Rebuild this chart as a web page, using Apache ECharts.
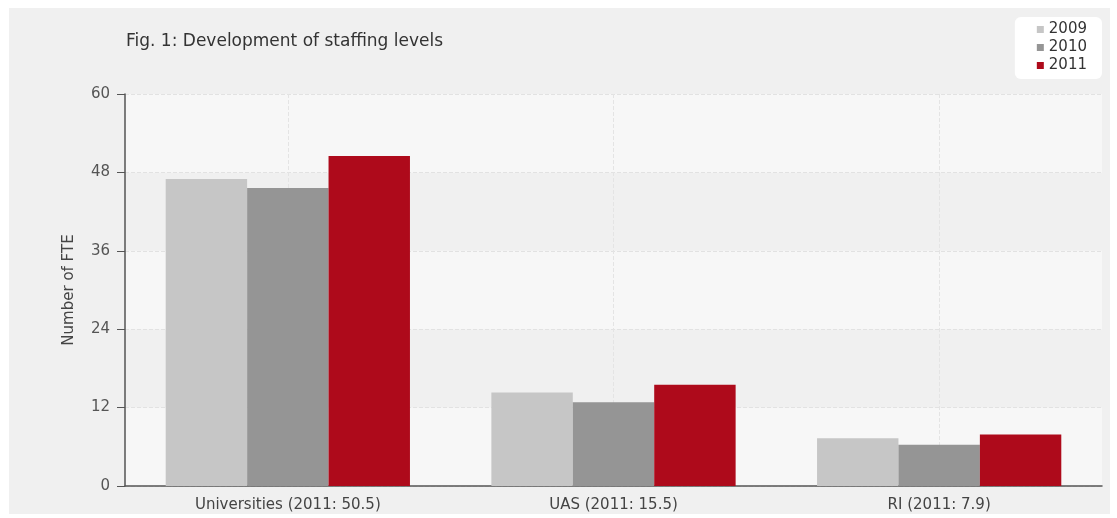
<!DOCTYPE html>
<html>
<head>
<meta charset="utf-8">
<script src="https://cdn.jsdelivr.net/npm/echarts@6/dist/echarts.min.js"></script>
<style>
html,body{margin:0;padding:0;background:#fff;}
#chart{width:1117px;height:518px;}
</style>
</head>
<body>
<div id="chart"></div>
<script>
const categories = ['Universities (2011: 50.5)', 'UAS (2011: 15.5)', 'RI (2011: 7.9)'];
const seriesNames = ['2009', '2010', '2011'];
const values2009 = [47.0, 14.3, 7.3];
const values2010 = [45.6, 12.8, 6.3];
const values2011 = [50.5, 15.5, 7.9];
const yTicks = { min: 0, max: 60, interval: 12 };
const gridHelperCats = ['a', 'b', 'c', 'd', 'e', 'f', 'g'];

const colors = ['#c6c6c6', '#959595', '#ae0a1b'];
const font = 'DejaVu Sans';

const chart = echarts.init(document.getElementById('chart'), null, { renderer: 'canvas' });

const seriesData = [values2009, values2010, values2011];

chart.setOption({
  animation: false,
  backgroundColor: '#ffffff',
  graphic: [{
    type: 'rect', z: -10, silent: true,
    shape: { x: 9, y: 8, width: 1101, height: 506 },
    style: { fill: '#f0f0f0' }
  }],
  title: {
    text: 'Fig. 1: Development of staffing levels',
    left: 121, top: 28,
    textStyle: { fontFamily: font, fontSize: 17, fontWeight: 'normal', color: '#333333' }
  },
  legend: {
    data: seriesNames,
    orient: 'vertical',
    right: 15, top: 17,
    backgroundColor: '#ffffff',
    borderRadius: 6,
    padding: [5, 15, 6, 22],
    itemWidth: 7, itemHeight: 7, itemGap: 3,
    icon: 'rect',
    textStyle: { fontFamily: font, fontSize: 15, color: '#333333' }
  },
  grid: { left: 125, right: 15, top: 94, bottom: 32, show: true, backgroundColor: '#f7f7f7', borderWidth: 0 },
  xAxis: [{
    type: 'category',
    data: categories,
    axisLine: { lineStyle: { color: '#555555', width: 1.5 } },
    axisTick: { alignWithLabel: true, length: 6, lineStyle: { color: '#555555' } },
    axisLabel: { fontFamily: font, fontSize: 15, color: '#444444', margin: 12 },
    splitLine: { show: false }
  }, {
    type: 'category',
    data: gridHelperCats,
    boundaryGap: false,
    position: 'bottom',
    axisLine: { show: false },
    axisTick: { show: false },
    axisLabel: { show: false },
    splitLine: {
      show: true,
      interval: function (i) { return i % 2 === 1; },
      lineStyle: { color: '#e4e4e4', type: 'dashed', width: 1 }
    }
  }],
  yAxis: {
    type: 'value',
    min: yTicks.min, max: yTicks.max, interval: yTicks.interval,
    name: 'Number of FTE',
    nameLocation: 'middle',
    nameGap: 48,
    nameTextStyle: { fontFamily: font, fontSize: 15, color: '#444444' },
    axisLine: { show: true, lineStyle: { color: '#555555', width: 1.5 } },
    axisTick: { show: true, length: 8, lineStyle: { color: '#555555' } },
    axisLabel: { fontFamily: font, fontSize: 15, color: '#555555', margin: 15 },
    splitLine: { show: true, lineStyle: { color: '#e2e2e2', type: 'dashed' } },
    splitArea: { show: true, areaStyle: { color: ['#f7f7f7', '#f0f0f0'] } }
  },
  series: seriesNames.map((name, i) => ({
    name: name,
    type: 'bar',
    xAxisIndex: 0,
    data: seriesData[i],
    barGap: '0%',
    barCategoryGap: '25%',
    itemStyle: { color: colors[i] }
  }))
});
</script>
</body>
</html>
